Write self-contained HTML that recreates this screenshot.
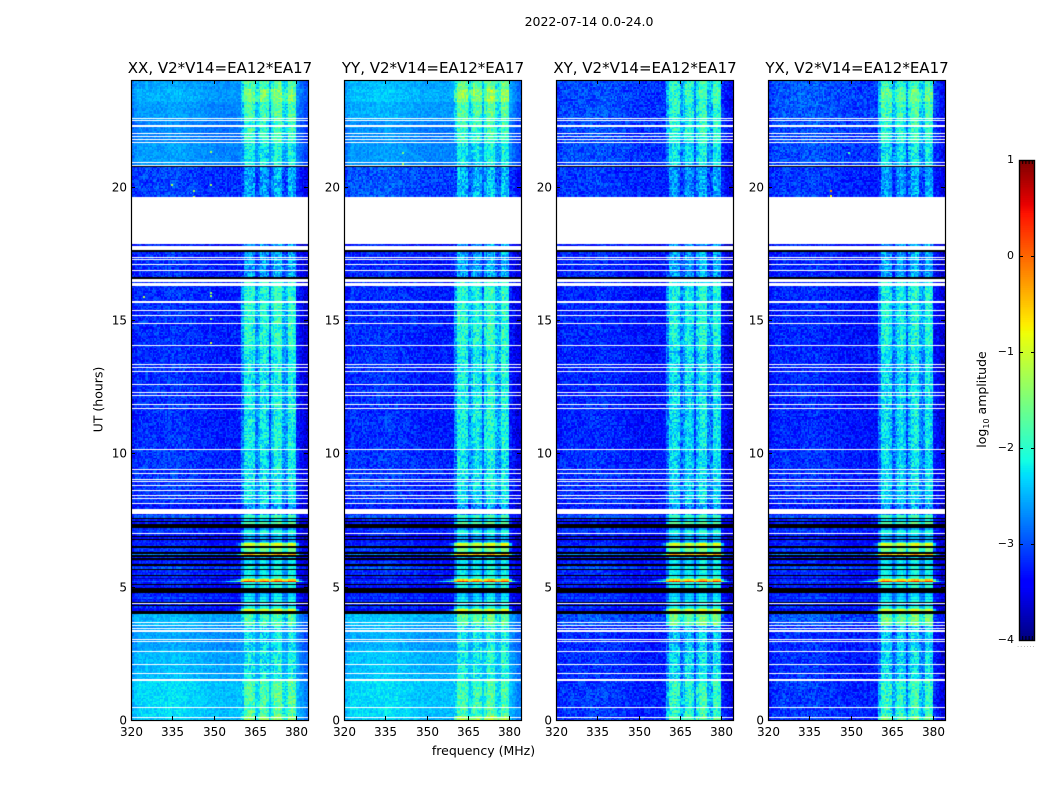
<!DOCTYPE html>
<html>
<head>
<meta charset="utf-8">
<title>2022-07-14 0.0-24.0</title>
<style>
html,body{margin:0;padding:0;background:#fff}
#figure{position:relative;width:1050px;height:800px;overflow:hidden;background:#fff}
#figure canvas{position:absolute;top:80px}
#overlay{position:absolute;left:0;top:0}
text{font-family:"DejaVu Sans","Liberation Sans",sans-serif;fill:#000}
</style>
</head>
<body>
<div id="figure">
<svg id="overlay" width="1050" height="800" viewBox="0 0 1050 800">
  <text x="589" y="26" font-size="12.5" text-anchor="middle">2022-07-14 0.0-24.0</text>
  <text x="483.5" y="755" font-size="12.5" text-anchor="middle">frequency (MHz)</text>
  <text x="0" y="0" font-size="12.5" text-anchor="middle" transform="translate(102.5,399.5) rotate(-90)">UT (hours)</text>
  <text x="0" y="0" font-size="12.5" text-anchor="middle" transform="translate(986,399.5) rotate(-90)">log<tspan font-size="8" dy="3">10</tspan><tspan dy="-3"> amplitude</tspan></text>
  <text x="1026.5" y="647" font-size="6" letter-spacing="1.2" fill="#777" style="fill:#777" text-anchor="middle">......</text>
</svg>
</div>
<script>
// ---------- chart data (log10 amplitude / hours / MHz) ----------
const polarizations = ['XX', 'YY', 'XY', 'YX'];
const panelTitles = ['XX, V2*V14=EA12*EA17', 'YY, V2*V14=EA12*EA17', 'XY, V2*V14=EA12*EA17', 'YX, V2*V14=EA12*EA17'];
const freqTicks = [320, 335, 350, 365, 380];
const hourTicks = [0, 5, 10, 15, 20];
const colorbarTicks = [-4, -3, -2, -1, 0, 1];
const BLACK = -9;

// time bands: start hour of each band
const bandStartHours = [0, 0.15, 1.5, 2.625, 3.56, 7.725, 8.1, 10.125, 13.875, 16.575, 17.55, 19.594, 20.775, 21.675, 22.5, 23.2, 23.7];
// background level per band
const bgXX = [-2.4, -2.35, -2.5, -2.6, -2.5, -3.3, -3.15, -3.2, -3.2, -3.2, -3.3, -3.1, -2.65, -2.75, -2.65, -2.55, -2.6];
const bgYY = [-2.4, -2.35, -2.45, -2.55, -2.45, -3.3, -3.15, -3.2, -3.2, -3.25, -3.3, -3.0, -2.65, -2.7, -2.55, -2.45, -2.5];
const bgXY = [-3.15, -3.15, -3.2, -3.2, -3.0, -3.3, -3.2, -3.25, -3.25, -3.25, -3.3, -3.15, -3.05, -3.05, -3.05, -3.05, -3.05];
const bgYX = [-3.15, -3.15, -3.2, -3.2, -3.0, -3.3, -3.2, -3.25, -3.25, -3.25, -3.3, -3.15, -3.05, -3.05, -3.0, -3.0, -3.0];
// interference-band level per band
const rfiXX = [-1.4, -1.75, -2.15, -2.25, -1.8, -2.6, -2.2, -2.15, -2.0, -2.55, -2.6, -2.55, -2.15, -1.9, -1.8, -1.5, -1.75];
const rfiYY = [-1.2, -1.85, -2.1, -2.15, -1.7, -2.6, -2.2, -2.1, -2.0, -2.55, -2.6, -2.45, -2.15, -1.9, -1.75, -1.35, -1.65];
const rfiXY = [-1.7, -1.95, -2.25, -2.35, -1.6, -2.6, -2.3, -2.25, -2.1, -2.55, -2.6, -2.6, -2.2, -2.0, -2.0, -1.9, -1.95];
const rfiYX = [-1.6, -1.95, -2.25, -2.35, -1.6, -2.6, -2.3, -2.25, -2.1, -2.55, -2.6, -2.6, -2.2, -2.0, -1.85, -1.65, -1.9];

// striped interval 7.725 h down to 4.0 h: row levels listed top to bottom
const stripeTopHour = 7.725;
const stripeBg = [-3.0, -3.0, BLACK, -3.3, BLACK, -3.3, BLACK, BLACK, BLACK, -3.2,
  -3.1, -3.2, -3.3, -3.3, BLACK, -3.4, BLACK, -3.3, -3.25, -3.3,
  -3.2, BLACK, -3.2, -3.1, -3.3, BLACK, -2.8, BLACK, -3.3, BLACK,
  -3.4, -3.2, -3.3, BLACK, -3.2, -3.0, BLACK, -3.2, -3.3, -3.2,
  BLACK, -3.3, -3.8, -3.3, -3.0, -3.3, BLACK, -3.3, -3.4, BLACK,
  BLACK, BLACK, -3.3, -3.2, -3.3, -3.1, -3.4, -3.2, BLACK, -3.3,
  BLACK, -3.2, -3.3, -3.4, BLACK, BLACK];
const stripeRfi = [-1.75, -1.9, -2.6, -2.25, -2.1, -1.7, BLACK, BLACK, BLACK, -2.6,
  -2.1, -2.0, -2.4, -2.4, BLACK, -2.5, BLACK, -2.6, -2.0, -0.9,
  -1.0, -2.5, -1.5, -1.5, -1.75, -2.8, -0.4, -2.6, -2.4, BLACK,
  -2.2, -2.2, -2.4, -2.5, -2.1, -2.1, -2.5, -2.2, -2.2, -2.2,
  -2.6, -2.1, -1.8, -0.6, 0.4, -2.0, -2.4, -2.1, -2.0, BLACK,
  BLACK, BLACK, -2.5, -2.3, -2.5, -2.2, -2.4, -2.1, -2.5, -2.4,
  -2.6, -2.1, -1.8, -0.9, BLACK, BLACK];

// frequency response, one value per MHz from 320 to 383
const bgByMHz = [-0.15, -0.05, 0.03, 0.03, 0.03, 0.03, 0.03, 0.03, 0.03, 0.03,
  0.04, 0.04, 0.05, 0.05, 0.07, 0.08, 0.08, 0.08, 0.06, 0.05,
  0.03, 0.02, 0.02, 0, 0, -0.02, -0.03, -0.05, -0.05, -0.06,
  -0.06, -0.07, -0.07, -0.08, -0.08, -0.08, -0.08, -0.08, -0.08, -0.08,
  -0.08, -0.08, 0, 0, 0, 0, 0, 0, 0, 0,
  0, 0, 0, 0, 0, 0, 0, 0, 0, 0,
  -0.1, -0.2, -0.3, -0.4];
const rfiByMHz = [-9, -9, -9, -9, -9, -9, -9, -9, -9, -9,
  -9, -9, -9, -9, -9, -9, -9, -9, -9, -9,
  -9, -9, -9, -9, -9, -9, -9, -9, -9, -9,
  -9, -9, -9, -3.2, -3.0, -2.8, -2.6, -2.4, -2.2, -1.9,
  -0.6, -0.05, 0, 0, -0.1, -0.6, -0.4, -0.05, 0, -0.15,
  -0.8, -0.2, 0.08, 0.1, 0.05, -0.45, -0.5, 0.05, 0.05, -0.05,
  -1.5, -2.4, -3.0, -3.5];

// measurement scatter, an estimated spread of pixel-to-pixel deviation
const scatter = [0.12, -0.21, 0.05, 0.28, -0.09, -0.3, 0.17, 0.02, -0.14, 0.24,
  -0.05, 0.09, -0.26, 0.2, -0.17, 0.31, 0.0, -0.11, 0.14, -0.23,
  0.07, 0.26, -0.03, -0.19, 0.11, -0.28, 0.19, 0.04, -0.12, 0.29,
  -0.07, -0.24, 0.15, 0.01, -0.16, 0.22, -0.02, 0.1, -0.29, 0.18,
  0.06, -0.2, 0.25, -0.08, 0.13, -0.33, 0.03, 0.21, -0.13, -0.04,
  0.3, -0.18, 0.08, -0.25, 0.16, 0.0, -0.1, 0.23, -0.22, 0.04,
  0.27, -0.06, -0.15, 0.12, -0.31, 0.19, 0.02, -0.09, 0.26, -0.17,
  0.1, -0.27, 0.06, 0.2, -0.01, -0.2, 0.33, -0.12, 0.08, -0.24,
  0.15, -0.04, 0.22, -0.16, 0.03, -0.28, 0.11, 0.25, -0.07, -0.19,
  0.17, 0.01, -0.23, 0.09, 0.28, -0.13, -0.02];

// flagged (white) and dead (black) time spans in hours [start, end]
const flaggedSpans = [[0.064, 0.101], [0.45, 0.488], [1.463, 1.538], [1.725, 1.763], [2.055, 2.093], [2.55, 2.588],
  [2.918, 2.955], [2.981, 3.019], [3.3, 3.375], [3.424, 3.461], [3.525, 3.563], [3.638, 3.675], [4.358, 4.395],
  [6.964, 7.013], [7.725, 7.924], [8.1, 8.138], [8.295, 8.333], [8.408, 8.445], [8.58, 8.618], [8.756, 8.794],
  [8.918, 8.955], [9.019, 9.056], [9.218, 9.255], [9.375, 9.413], [10.125, 10.163], [11.67, 11.708], [11.805, 11.843],
  [12.131, 12.169], [12.255, 12.293], [12.57, 12.608], [13.058, 13.095], [13.2, 13.238], [13.32, 13.358],
  [14.033, 14.07], [14.858, 14.895], [15.139, 15.176], [15.338, 15.375], [15.638, 15.713], [16.249, 16.376],
  [16.414, 16.519], [16.845, 16.883], [17.07, 17.108], [17.231, 17.269], [17.306, 17.344], [17.625, 17.79],
  [17.85, 19.594], [20.794, 20.831], [20.895, 20.933], [21.653, 21.69], [21.743, 21.78], [21.855, 21.893],
  [21.983, 22.02], [22.245, 22.3125], [22.47, 22.508], [22.526, 22.564]];
const deadSpans = [[16.519, 16.594], [17.55, 17.625], [20.738, 20.775]];

// isolated bright samples: panel index, hour, MHz, level
const spikePanel = [0, 0, 0, 0, 0, 0, 0, 0, 0, 0, 3, 3, 3, 1, 1, 1];
const spikeHour = [21.34, 20.09, 20.1, 19.875, 19.66, 16.06, 15.93, 15.9, 15.07, 14.18, 19.875, 19.67, 21.3, 21.3, 20.9, 20.95];
const spikeMHz = [348.7, 334.4, 348.7, 342.5, 342.5, 348.7, 348.7, 324.4, 348.7, 348.7, 342.5, 342.5, 349, 341, 341, 349];
const spikeLevel = [-1.3, -1.2, -1.3, -1.3, -1.1, -1.3, -1.3, -1.2, -1.3, -1.0, -0.2, -0.8, -1.8, -1.5, -1.4, -1.8];

// ---------- geometry and scales ----------
const panelLeft = [131, 344, 556, 768];
const panelW = 177, axisTop = 80, axisBottom = 720;
const freqMin = 320, pxPerMHz = 2.75, hoursMax = 24;
const rowHours = 0.05625, chanMHz = 0.5;
const cbLeft = 1019, cbRight = 1035, cbTop = 160, cbBottom = 640, cbMin = -4, cbMax = 1;

function xScale(panel, mhz) { return panelLeft[panel] + (mhz - freqMin) * pxPerMHz; }
function yScale(hour) { return axisBottom - hour * (axisBottom - axisTop) / hoursMax; }
function cbScale(v) { return cbBottom - (v - cbMin) / (cbMax - cbMin) * (cbBottom - cbTop); }

function ramp(pts, t) {
  for (let i = 1; i < pts.length; i++) {
    if (t <= pts[i][0]) {
      const a = pts[i - 1], b = pts[i];
      return a[1] + (b[1] - a[1]) * (t - a[0]) / (b[0] - a[0]);
    }
  }
  return pts[pts.length - 1][1];
}
function jet(t) {
  t = Math.max(0, Math.min(1, t));
  const r = ramp([[0, 0], [0.35, 0], [0.66, 1], [0.89, 1], [1, 0.5]], t);
  const g = ramp([[0, 0], [0.125, 0], [0.375, 1], [0.64, 1], [0.91, 0], [1, 0]], t);
  const b = ramp([[0, 0.5], [0.11, 1], [0.34, 1], [0.65, 0], [1, 0]], t);
  return 'rgb(' + Math.round(r * 255) + ',' + Math.round(g * 255) + ',' + Math.round(b * 255) + ')';
}
const lut = [];
for (let i = 0; i <= 512; i++) lut.push(jet(i / 512));
function colorOf(v) {
  return lut[Math.max(0, Math.min(512, Math.round((v - cbMin) / (cbMax - cbMin) * 512)))];
}
function bandIndex(h) {
  let k = 0;
  for (let i = 0; i < bandStartHours.length; i++) if (h >= bandStartHours[i]) k = i;
  return k;
}

const bgByPol = [bgXX, bgYY, bgXY, bgYX];
const rfiByPol = [rfiXX, rfiYY, rfiXY, rfiYX];
const figure = document.getElementById('figure');
const overlay = document.getElementById('overlay');
const NS = 'http://www.w3.org/2000/svg';

function drawHeatmap(p) {
  const cv = document.createElement('canvas');
  cv.width = panelW;
  cv.height = axisBottom - axisTop;
  cv.style.left = panelLeft[p] + 'px';
  
  
  figure.insertBefore(cv, overlay);
  const ctx = cv.getContext('2d');
  ctx.fillStyle = '#fff';
  ctx.fillRect(0, 0, cv.width, cv.height);
  const nRows = Math.ceil(hoursMax / rowHours);
  const nChans = Math.ceil((panelW / pxPerMHz) / chanMHz);
  const pv = panelLeft[p];
  for (let r = 0; r < nRows; r++) {
    const h = (r + 0.5) * rowHours;
    let bg, rfi, hotGain, bgGain;
    const stripeIdx = Math.floor((stripeTopHour - h) / rowHours);
    const inStripes = h < stripeTopHour && stripeIdx < stripeBg.length;
    if (inStripes) {
      bg = stripeBg[stripeIdx];
      rfi = stripeRfi[stripeIdx];
      hotGain = 0.5;
      bgGain = 0.8;
    } else {
      const k = bandIndex(h);
      bg = bgByPol[p][k];
      rfi = rfiByPol[p][k];
      hotGain = 1.3;
      bgGain = bg > -2.8 ? 0.55 : 1.0;
    }
    // both edges come from integer row indices so neighbouring rows share an edge
    const y1 = Math.round(yScale((r + 1) * rowHours) + 0.01) - axisTop;
    const y2 = Math.round(yScale(r * rowHours) + 0.01) - axisTop;
    for (let c = 0; c < nChans; c++) {
      const f = freqMin + c * chanMHz;
      const bin = Math.min(63, Math.floor(f - freqMin));
      const idx = (c * c * 7 + r * r * 3 + c * r * 5 + c * 11 + r * 17 + p * 29) % scatter.length;
      const g = scatter[idx];
      if (bg <= BLACK) {
        ctx.fillStyle = '#000';
      } else {
        const v = Math.max(bg + bgByMHz[bin] + g * bgGain, rfi + rfiByMHz[bin] + g * hotGain);
        ctx.fillStyle = colorOf(v);
      }
      const x1 = Math.round(xScale(p, f)) - pv;
      const x2 = Math.round(xScale(p, f + chanMHz)) - pv;
      ctx.fillRect(x1, y1, x2 - x1, y2 - y1);
    }
  }
  for (let i = 0; i < spikeHour.length; i++) {
    if (spikePanel[i] !== p) continue;
    ctx.fillStyle = colorOf(spikeLevel[i]);
    ctx.fillRect(Math.round(xScale(p, spikeMHz[i])) - pv, Math.round(yScale(spikeHour[i])) - axisTop, 2, 2);
  }
  function paintSpans(spans, color) {
    ctx.fillStyle = color;
    for (const s of spans) {
      const top = Math.round(yScale(s[1])) - axisTop;
      const hgt = Math.max(1, Math.round(yScale(s[0]) - yScale(s[1])));
      ctx.fillRect(0, top, panelW, hgt);
    }
  }
  paintSpans(deadSpans, '#000');
  paintSpans(flaggedSpans, '#fff');
}

function addLine(x1, y1, x2, y2, name, w) {
  const el = document.createElementNS(NS, 'line');
  el.setAttribute('x1', x1);
  el.setAttribute('y1', y1);
  el.setAttribute('x2', x2);
  el.setAttribute('y2', y2);
  el.setAttribute('stroke', '#000');
  el.setAttribute('stroke-width', w || 1);
  
  
  overlay.appendChild(el);
}
function addText(str, x, y, size, anchor, name) {
  const el = document.createElementNS(NS, 'text');
  el.textContent = str;
  el.setAttribute('x', x);
  el.setAttribute('y', y);
  el.setAttribute('font-size', size);
  el.setAttribute('text-anchor', anchor);
  
  
  overlay.appendChild(el);
}

function drawAxes(p) {
  const left = panelLeft[p], right = left + panelW;
  const pol = polarizations[p].toLowerCase();
  const frame = document.createElementNS(NS, 'rect');
  frame.setAttribute('x', left + 0.5);
  frame.setAttribute('y', axisTop + 0.5);
  frame.setAttribute('width', panelW);
  frame.setAttribute('height', axisBottom - axisTop);
  frame.setAttribute('fill', 'none');
  frame.setAttribute('stroke', '#000');
  frame.setAttribute('stroke-width', '1.2');
  
  
  overlay.appendChild(frame);
  addText(panelTitles[p], left + panelW / 2 + 0.5, 73, 15, 'middle', 'panel-title-' + pol);
  for (const f of freqTicks) {
    const x = Math.round(xScale(p, f)) + 0.5;
    addLine(x, axisBottom, x, axisBottom - 4, 'x-tick-' + pol + '-' + f);
    addLine(x, axisTop, x, axisTop + 4, 'x-tick-top-' + pol + '-' + f);
    addText(String(f), x, 736, 12, 'middle', 'x-tick-label-' + pol + '-' + f);
  }
  for (const h of hourTicks) {
    const y = Math.round(yScale(h)) + 0.5;
    addLine(left, y, left + 4, y, 'y-tick-' + pol + '-' + h);
    addLine(right, y, right - 4, y, 'y-tick-right-' + pol + '-' + h);
    addText(String(h), left - 4, y + 4, 12, 'end', 'y-tick-label-' + pol + '-' + h);
  }
}

function drawColorbar() {
  const steps = 256;
  const group = document.createElementNS(NS, 'g');
  
  
  group.setAttribute('shape-rendering', 'crispEdges');
  overlay.appendChild(group);
  for (let i = 0; i < steps; i++) {
    const v0 = cbMin + (cbMax - cbMin) * i / steps;
    const v1 = cbMin + (cbMax - cbMin) * (i + 1) / steps;
    const el = document.createElementNS(NS, 'rect');
    el.setAttribute('x', cbLeft);
    el.setAttribute('y', cbScale(v1));
    el.setAttribute('width', cbRight - cbLeft);
    el.setAttribute('height', cbScale(v0) - cbScale(v1) + 0.5);
    el.setAttribute('fill', jet(i / (steps - 1)));
    
    
    group.appendChild(el);
  }
  const frame = document.createElementNS(NS, 'rect');
  frame.setAttribute('x', cbLeft + 0.5);
  frame.setAttribute('y', cbTop + 0.5);
  frame.setAttribute('width', cbRight - cbLeft - 1);
  frame.setAttribute('height', cbBottom - cbTop);
  frame.setAttribute('fill', 'none');
  frame.setAttribute('stroke', '#000');
  frame.setAttribute('stroke-width', '1.4');
  
  
  overlay.appendChild(frame);
  for (const v of colorbarTicks) {
    const y = Math.round(cbScale(v)) + 0.5;
    addLine(cbLeft, y, cbLeft + 4, y, 'colorbar-tick-left-' + v);
    addLine(cbRight, y, cbRight - 4, y, 'colorbar-tick-right-' + v);
    const label = v < 0 ? '\u2212' + Math.abs(v) : String(v);
    addText(label, 1014, cbScale(v) + 3, 11, 'end', 'colorbar-label-' + v);
  }
  for (let i = 1; i <= 4; i++) {
    const x = cbLeft + i * (cbRight - cbLeft) / 5 + 0.5;
    addLine(x, cbTop, x, cbTop + 4, 'colorbar-minor-tick-top');
    addLine(x, cbBottom, x, cbBottom - 4, 'colorbar-minor-tick-bottom');
  }
}

for (let p = 0; p < polarizations.length; p++) {
  drawHeatmap(p);
  drawAxes(p);
}
drawColorbar();
</script>
</body>
</html>
